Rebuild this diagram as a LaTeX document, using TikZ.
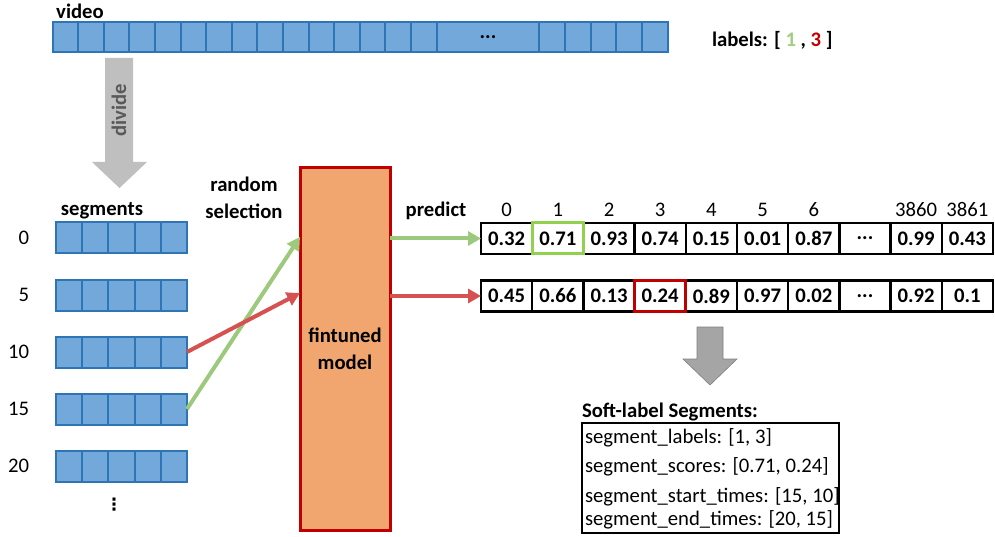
\documentclass[tikz,border=0pt]{standalone}
\usepackage{fontspec}
\setmainfont{Carlito}
\newfontfamily\symfont{DejaVu Sans}
\usetikzlibrary{arrows.meta, positioning}

\definecolor{cellblue}{RGB}{114,168,218}
\definecolor{celledge}{RGB}{46,117,182}
\definecolor{selgreen}{RGB}{157,201,125}
\definecolor{selred}{RGB}{214,82,80}
\definecolor{labgreen}{RGB}{160,205,130}
\definecolor{hlgreen}{RGB}{146,208,80}
\definecolor{darkred}{RGB}{192,0,0}
\definecolor{modelfill}{RGB}{240,166,110}
\definecolor{lightarrow}{RGB}{191,191,191}
\definecolor{midarrow}{RGB}{165,165,165}
\definecolor{arrowtext}{RGB}{89,89,89}

\newcommand{\gapdots}{...}

\begin{document}
\begin{tikzpicture}[
  x=1pt, y=-1pt,
  every node/.style = {inner sep=0pt, outer sep=0pt},
  title/.style  = {font=\fontsize{20.7}{27}\selectfont\bfseries},
  plain/.style  = {font=\fontsize{20.7}{25}\selectfont},
  cell/.style   = {rectangle, draw=celledge, fill=cellblue, line width=2pt,
                   minimum width=25.7pt, minimum height=30pt},
  score/.style  = {rectangle, draw=black, line width=2.5pt, minimum width=51.2pt,
                   minimum height=31pt, font=\fontsize{20.7}{25}\selectfont\bfseries},
  pick/.style   = {-{Triangle[length=13pt, width=14pt]}, line width=4pt}
]
\useasboundingbox (0,0) rectangle (995,537);

% ── Video strip ──────────────────────────────────────────────────────────────
\node[title] (video) at (80,11) {video};
\foreach \i in {0,...,14}
  \node[cell] (v\i) at (65.5+25.6*\i, 37) {};
\node[cell, minimum width=102pt, font=\fontsize{20.7}{25}\selectfont\bfseries]
  (vgap) at (488,37) {\gapdots};
\foreach \i in {0,...,4}
  \node[cell, minimum width=25.8pt] (w\i) at (551.9+25.8*\i, 37) {};

\node[title, anchor=west] (labels) at (712,40)
  {labels: [ \textcolor{labgreen}{1} , \textcolor{darkred}{3} ]};

% ── Divide arrow ─────────────────────────────────────────────────────────────
\fill[lightarrow] (105,58) -- (133,58) -- (133,162) -- (147,162) -- (119.5,188)
  -- (92,162) -- (105,162) -- cycle;
\node[rotate=90, text=arrowtext, font=\fontsize{20.7}{25}\selectfont\bfseries]
  (divide) at (119,110) {divide};

% ── Segments ─────────────────────────────────────────────────────────────────
\node[title] (segments) at (102,211) {segments};
\foreach \r/\y in {0/238, 5/295, 10/352, 15/409, 20/466} {
  \node[plain, anchor=east] (lab\r) at (29,\y) {\r};
  \foreach \i in {0,...,4}
    \node[cell, minimum width=26.2pt, minimum height=31pt]
      (s\r-\i) at (69.1+26.2*\i, \y) {};
}
\node[font=\symfont\bfseries\fontsize{17}{20}\selectfont] (more) at (114,505) {⋮};

% ── Model ────────────────────────────────────────────────────────────────────
\node[title, align=center] (rand) at (244,198) {random\\selection};
\node[draw=darkred, fill=modelfill, line width=3pt, minimum width=90pt,
      minimum height=363pt, align=center, title]
  (model) at (345,349) {fintuned\\model};

\coordinate (gin) at (300,237);
\coordinate (rin) at (300,293);
\draw[pick, selgreen] (s15-4.east) -- (gin);
\draw[pick, selred]   (s10-4.east) -- (rin);

% ── Predicted scores ─────────────────────────────────────────────────────────
\node[title] (predict) at (436,211) {predict};
\foreach \k/\n in {0/0, 1/1, 2/2, 3/3, 4/4, 5/5, 6/6, 8/3860, 9/3861}
  \node[plain] (col\k) at (506.6+51.2*\k, 210) {\n};

\foreach \v [count=\k from 0] in {0.32,0.71,0.93,0.74,0.15,0.01,0.87,\gapdots,0.99,0.43}
  \node[score] (a-\k) at (506.6+51.2*\k, 238.5) {\v};
\foreach \v [count=\k from 0] in {0.45,0.66,0.13,0.24,0.89,0.97,0.02,\gapdots,0.92,0.1}
  \node[score] (b-\k) at (506.6+51.2*\k, 296) {\v};

\draw[hlgreen, line width=3pt] (a-1.north west) rectangle (a-1.south east);
\draw[darkred, line width=3pt] (b-3.north west) rectangle (b-3.south east);

\draw[pick, selgreen] (model.east |- a-0.west) -- (a-0.west);
\draw[pick, selred]   (model.east |- b-0.west) -- (b-0.west);

% ── Soft labels ──────────────────────────────────────────────────────────────
\filldraw[fill=midarrow, draw=gray, line width=0.6pt] (697,327) -- (723,327)
  -- (723,359) -- (737,359) -- (710,385) -- (683,359) -- (697,359) -- cycle;

\node[title, anchor=west] (softtitle) at (582,412) {Soft-label Segments:};
\node[draw, line width=2.5pt, minimum width=257pt, minimum height=110pt,
      anchor=north west] (softbox) at (582,423) {};
\node[plain, anchor=west] (sl1) at (585,438) {segment\_labels: [1, 3]};
\node[plain, anchor=west] (sl2) at (585,467) {segment\_scores: [0.71, 0.24]};
\node[plain, anchor=west] (sl3) at (585,497) {segment\_start\_times: [15, 10]};
\node[plain, anchor=west] (sl4) at (585,520) {segment\_end\_times: [20, 15]};

\end{tikzpicture}
\end{document}
